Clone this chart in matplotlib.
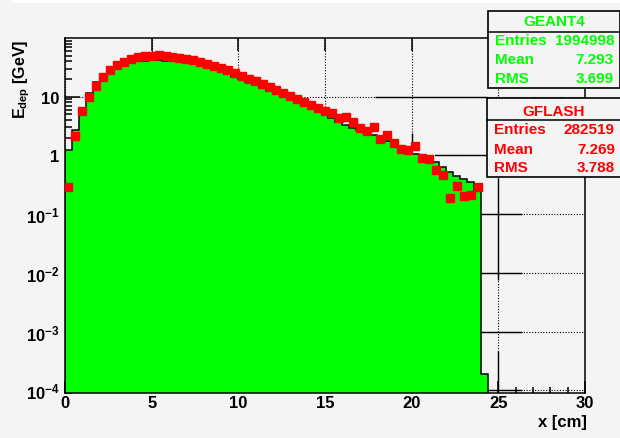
import matplotlib
matplotlib.use("Agg")
import matplotlib.pyplot as plt
import numpy as np
from matplotlib.lines import Line2D
from matplotlib.patches import Rectangle
from matplotlib.ticker import NullFormatter

W, H = 620, 439
BG = "#f4f4f4"
GREEN = "#00ff00"
RED = "#ff0000"

# longitudinal profile, 0.4 cm bins starting at x = 0
BIN_WIDTH = 0.4
G4_EDEP = [
    1.26, 2.69, 6.46, 11.7, 17.8, 24.0, 28.8, 33.1, 36.3, 38.9,
    40.3, 41.2, 41.7, 41.7, 41.2, 40.3, 39.1, 37.6, 35.9, 33.5,
    31.6, 29.2, 26.6, 24.3, 21.9, 19.7, 17.8, 15.8, 14.1, 12.6,
    11.2, 10.0, 8.91, 7.94, 7.08, 6.31, 5.50, 4.84, 4.27, 3.76,
    3.31, 2.95, 2.66, 2.45, 2.24, 2.00, 1.78, 1.58, 1.41, 1.23,
    1.07, 0.955, 0.851, 0.759, 0.631, 0.525, 0.447, 0.398, 0.347, 0.251,
    1.9e-4,
]
GFLASH_EDEP = [
    0.295, 2.17, 5.65, 9.95, 15.5, 21.9, 28.4, 34.1, 38.9, 43.3,
    46.8, 49.2, 50.1, 50.6, 50.1, 48.4, 46.2, 44.2, 41.9, 39.4,
    36.7, 33.9, 30.9, 28.2, 25.4, 22.9, 20.4, 18.3, 16.3, 14.5,
    12.9, 11.5, 10.2, 9.2, 8.2, 7.3, 6.5, 5.65, 5.3, 4.4,
    4.6, 3.76, 2.95, 2.6, 3.1, 1.9, 2.26, 1.63, 1.29, 1.25,
    1.44, 0.92, 0.87, 0.57, 0.46, 0.187, 0.30, 0.205, 0.21, 0.29,
]
G4_STATS = [("Entries", "1994998"), ("Mean", "7.293"), ("RMS", "3.699")]
GFLASH_STATS = [("Entries", "282519"), ("Mean", "7.269"), ("RMS", "3.788")]

X_TICKS = [0, 5, 10, 15, 20, 25, 30]
Y_TICKS = [1e-4, 1e-3, 1e-2, 1e-1, 1, 10]
Y_LABELS = [r"$10^{-4}$", r"$10^{-3}$", r"$10^{-2}$", r"$10^{-1}$", "1", "10"]

plt.rcParams.update(
    {
        "font.family": "Liberation Sans",
        "font.weight": "bold",
        "mathtext.fontset": "custom",
        "mathtext.rm": "Liberation Sans:bold",
        "mathtext.it": "Liberation Sans:bold",
        "mathtext.bf": "Liberation Sans:bold",
        "mathtext.default": "rm",
    }
)


def fx(px):
    return px / W


def fy(py):
    return 1 - py / H


fig = plt.figure(figsize=(W / 100, H / 100), dpi=100, facecolor=BG)
ax = fig.add_axes([fx(65), fy(394), (585 - 65) / W, (394 - 39) / H])
ax.set_facecolor(BG)
ax.set_yscale("log")
ax.set_xlim(0, 30)
ax.set_ylim(9e-5, 100)

edges = np.arange(len(G4_EDEP) + 1) * BIN_WIDTH
centers = (np.arange(len(GFLASH_EDEP)) + 0.5) * BIN_WIDTH
ax.stairs(G4_EDEP, edges, fill=True, color=GREEN, baseline=1e-6, zorder=2)
ax.stairs(G4_EDEP, edges, color="black", lw=1.1, baseline=1e-6, zorder=3)
ax.plot(centers, GFLASH_EDEP, ls="none", marker="s", ms=5.1, color=RED, mec=RED, zorder=4)

# dotted grid, with the solid stretches the reference shows
ax.set_axisbelow(True)
ax.grid(True, which="major", color="black", ls=(0, (1, 1.5)), lw=0.8)
solid = dict(color="black", lw=1.0, zorder=1)
ax.hlines(10, 17.9, 24.35, **solid)
ax.hlines(1, 21.35, 24.35, **solid)
ax.hlines([1e-1, 1e-2, 1e-3, 1e-4], 24.0, 26.35, **solid)
ax.vlines(25, 0.0077, 0.42, **solid)
ax.vlines(25, 9e-5, 4.6e-4, **solid)
ax.vlines(20, 1.6, 2.4, **solid)

ax.set_xticks(X_TICKS)
ax.set_xticks(np.arange(0, 31, 1), minor=True)
ax.set_yticks(Y_TICKS, Y_LABELS)
ax.yaxis.set_minor_formatter(NullFormatter())
ax.tick_params(axis="x", which="major", direction="in", length=9, width=1.1,
               top=True, labelsize=12, pad=1.5)
ax.tick_params(axis="x", which="minor", direction="in", length=4.3, width=1.1, top=False)
ax.tick_params(axis="y", which="major", direction="in", length=11, width=1.1,
               right=False, labelsize=12, pad=4)
ax.tick_params(axis="y", which="minor", direction="in", length=5.3, width=1.1, right=False)
for s in ax.spines.values():
    s.set_linewidth(1.1)

fig.text(fx(587), fy(423), "x [cm]", ha="right", va="center", fontsize=12)
fig.text(fx(22), fy(40), r"E$_{dep}$ [GeV]", rotation=90, ha="center", va="top", fontsize=11.5)


def stat_box(x0, x1, y0, ysep, y1, title, title_base, rows, row_bases, color):
    fig.add_artist(Rectangle((fx(x0), fy(y1)), fx(x1) - fx(x0), fy(y0) - fy(y1),
                             transform=fig.transFigure, facecolor=BG,
                             edgecolor="black", lw=1.2, zorder=5))
    fig.add_artist(Line2D([fx(x0), fx(x1)], [fy(ysep)] * 2, transform=fig.transFigure,
                          color="black", lw=1.1, zorder=6))
    fig.text(fx((x0 + x1) / 2), fy(title_base), title, ha="center", va="baseline",
             color=color, fontsize=11, zorder=7)
    for (name, val), yb in zip(rows, row_bases):
        fig.text(fx(x0 + 7), fy(yb), name, ha="left", va="baseline", color=color,
                 fontsize=11, zorder=7)
        fig.text(fx(x1 - 6), fy(yb), val, ha="right", va="baseline", color=color,
                 fontsize=11, zorder=7)


stat_box(488, 620, 12, 33, 89, "GEANT4", 26.3, G4_STATS, [44.8, 64.5, 82.8], GREEN)
stat_box(487, 621, 99, 121, 178, "GFLASH", 115.5, GFLASH_STATS, [133.8, 153.8, 172.2], RED)

fig.add_artist(Rectangle((fx(12), fy(4)), 1 - fx(12), fy(0) - fy(4),
                         transform=fig.transFigure, facecolor="white", lw=0, zorder=0))

fig.savefig("out.png", dpi=100, facecolor=BG)
